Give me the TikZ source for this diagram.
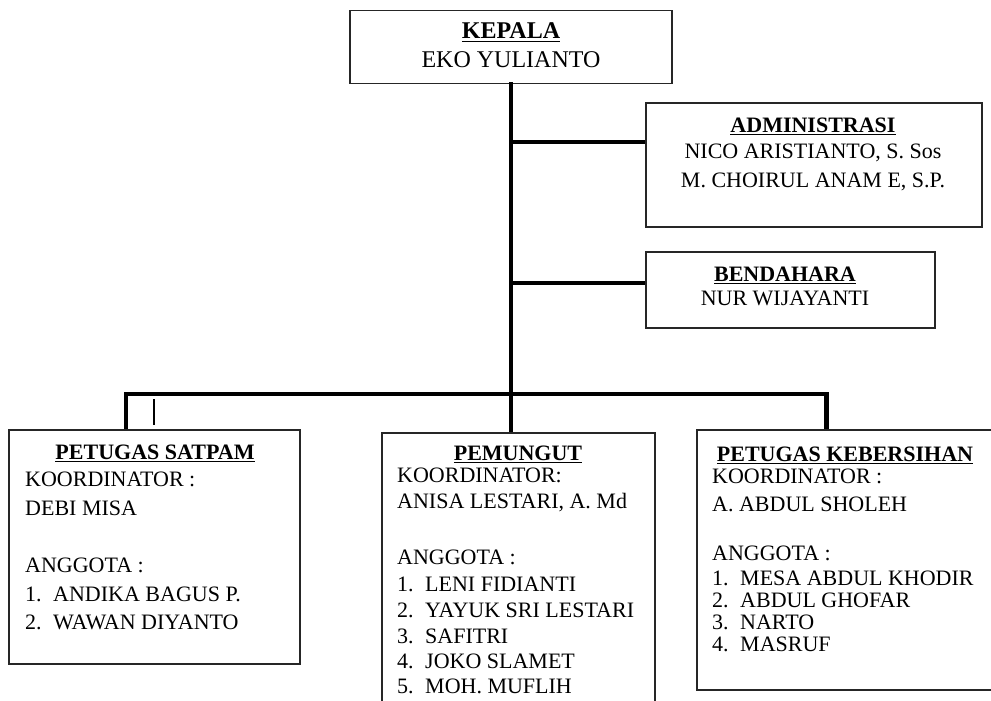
\documentclass[tikz,border=0pt]{standalone}
\usepackage{fontspec}
\setmainfont{Liberation Serif}
\newcommand{\myul}[1]{\setbox0\hbox{#1}\rlap{\rule[-3.2pt]{\wd0}{1.4pt}}\box0}
\tikzset{
  box/.style={draw=black!85, line width=1.4pt, inner sep=0pt, fill=none},
  conn/.style={line width=4.6pt, line cap=rect, line join=miter},
  thinln/.style={line width=1.5pt},
  txt/.style={inner sep=0pt, font=\fontsize{22}{26}\selectfont},
  bigtxt/.style={inner sep=0pt, font=\fontsize{24}{28}\selectfont},
}
\begin{document}
\begin{tikzpicture}[x=1pt,y=-1pt]
\useasboundingbox (0,0) rectangle (991,701);
\clip (0,0) rectangle (991,701);
% boxes
\node[box, minimum width=322pt, minimum height=73pt] (kepala) at (511,47) {};
\node[box, minimum width=336pt, minimum height=124pt] (admin) at (814,165) {};
\node[box, minimum width=289pt, minimum height=76pt] (benda) at (790.5,290) {};
\node[box, minimum width=291pt, minimum height=234pt] (satpam) at (154.5,547) {};
\node[box, minimum width=273pt, minimum height=300pt] (pemungut) at (518.5,583) {};
\node[box, minimum width=310pt, minimum height=260pt] (bersih) at (852,560) {};
% connector points
\coordinate (j1) at (511,142);
\coordinate (j2) at (511,283);
\coordinate (j3) at (511,394);
\coordinate (bl) at (126,394);
\coordinate (br) at (826.5,394);
\coordinate (t1) at (154,399);
\coordinate (t2) at (154,425);
% connectors
\draw[conn] (kepala.south) -- (j3);
\draw[conn, line cap=butt] (j1) -- (j1 -| admin.west);
\draw[conn, line cap=butt] (j2) -- (j2 -| benda.west);
\draw[conn, line cap=butt] (satpam.north -| bl) -- (bl) -- (br) -- (bersih.north -| br);
\draw[conn, line cap=butt] (j3) -- (j3 |- pemungut.north);
\draw[thinln] (t1) -- (t2);
% KEPALA
\node[bigtxt, anchor=base] (k1) at (511,39) {\textbf{\myul{KEPALA}}};
\node[bigtxt, anchor=base] (k2) at (511,68) {EKO YULIANTO};
% ADMINISTRASI
\node[txt, anchor=base] (a1) at (813,132) {\textbf{\myul{ADMINISTRASI}}};
\node[txt, anchor=base] (a2) at (813,158) {NICO ARISTIANTO, S. Sos};
\node[txt, anchor=base] (a3) at (813,187) {M. CHOIRUL ANAM E, S.P.};
% BENDAHARA
\node[txt, anchor=base] (b1) at (785,281) {\textbf{\myul{BENDAHARA}}};
\node[txt, anchor=base] (b2) at (785,305) {NUR WIJAYANTI};
% SATPAM
\node[txt, anchor=base] (s1) at (155,459) {\textbf{\myul{PETUGAS SATPAM}}};
\node[txt, anchor=base west] (s2) at (25,486) {KOORDINATOR :};
\node[txt, anchor=base west] (s3) at (25,515) {DEBI MISA};
\node[txt, anchor=base west] (s4) at (25,572) {ANGGOTA :};
\node[txt, anchor=base west] (s5n) at (25,601) {1.};
\node[txt, anchor=base west] (s5) at (53,601) {ANDIKA BAGUS P.};
\node[txt, anchor=base west] (s6n) at (25,629) {2.};
\node[txt, anchor=base west] (s6) at (53,629) {WAWAN DIYANTO};
% PEMUNGUT
\node[txt, anchor=base] (p1) at (518,460) {\textbf{\myul{PEMUNGUT}}};
\node[txt, anchor=base west] (p2) at (397,482) {KOORDINATOR:};
\node[txt, anchor=base west] (p3) at (397,508) {ANISA LESTARI, A. Md};
\node[txt, anchor=base west] (p4) at (397,564) {ANGGOTA :};
\node[txt, anchor=base west] (p5n) at (397,591) {1.};
\node[txt, anchor=base west] (p5) at (425,591) {LENI FIDIANTI};
\node[txt, anchor=base west] (p6) at (425,617) {YAYUK SRI LESTARI};
\node[txt, anchor=base west] (p6n) at (397,617) {2.};
\node[txt, anchor=base west] (p7n) at (397,643) {3.};
\node[txt, anchor=base west] (p7) at (425,643) {SAFITRI};
\node[txt, anchor=base west] (p8n) at (397,668) {4.};
\node[txt, anchor=base west] (p8) at (425,668) {JOKO SLAMET};
\node[txt, anchor=base west] (p9n) at (397,693) {5.};
\node[txt, anchor=base west] (p9) at (425,693) {MOH. MUFLIH};
% KEBERSIHAN
\node[txt, anchor=base] (c1) at (845,461) {\textbf{\myul{PETUGAS KEBERSIHAN}}};
\node[txt, anchor=base west] (c2) at (712,483) {KOORDINATOR :};
\node[txt, anchor=base west] (c3) at (712,511) {A. ABDUL SHOLEH};
\node[txt, anchor=base west] (c4) at (712,560) {ANGGOTA :};
\node[txt, anchor=base west] (c5n) at (712,585) {1.};
\node[txt, anchor=base west] (c5) at (740,585) {MESA ABDUL KHODIR};
\node[txt, anchor=base west] (c6n) at (712,607) {2.};
\node[txt, anchor=base west] (c6) at (740,607) {ABDUL GHOFAR};
\node[txt, anchor=base west] (c7n) at (712,629) {3.};
\node[txt, anchor=base west] (c7) at (740,629) {NARTO};
\node[txt, anchor=base west] (c8n) at (712,651) {4.};
\node[txt, anchor=base west] (c8) at (740,651) {MASRUF};
\end{tikzpicture}
\end{document}
